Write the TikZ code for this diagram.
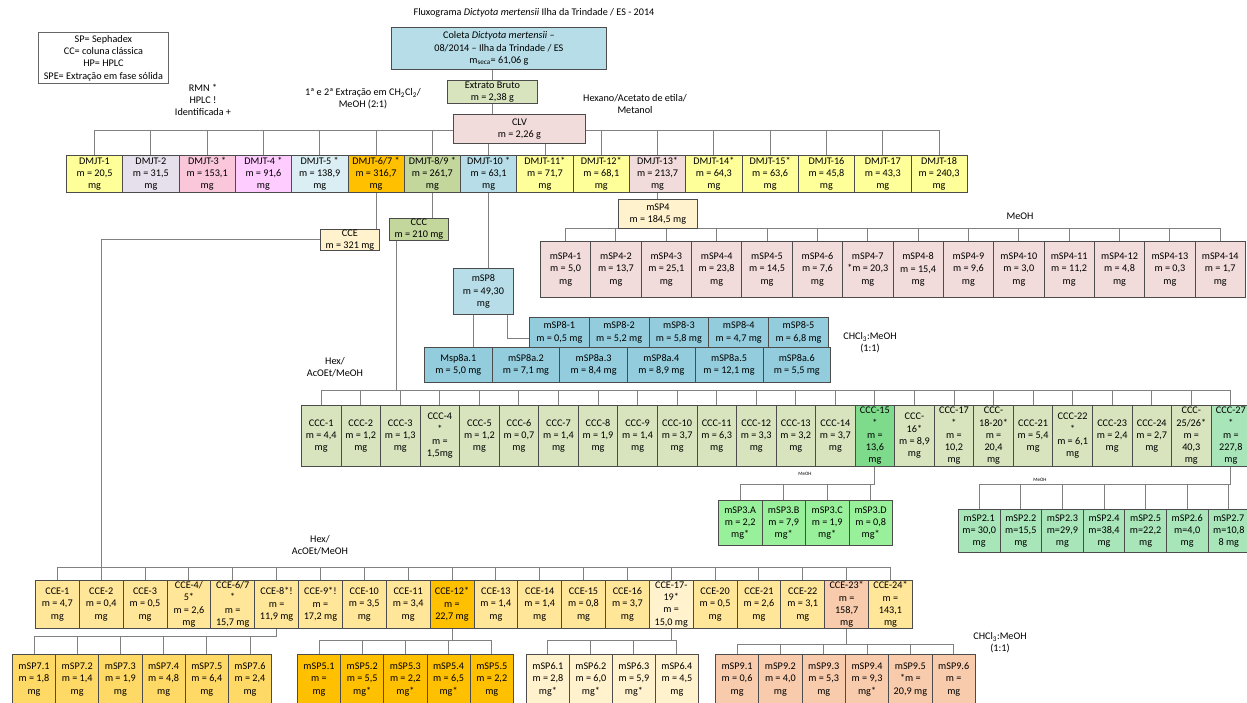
\documentclass[tikz,border=0pt]{standalone}
\usepackage{fontspec}
\setmainfont{Carlito}
\usetikzlibrary{backgrounds}
\definecolor{cBlue}{HTML}{B7DEE8}
\definecolor{cOliveL}{HTML}{D7E4BD}
\definecolor{cRose}{HTML}{F2DCDB}
\definecolor{dYel}{HTML}{FFFF99}
\definecolor{dLav}{HTML}{E6E0EC}
\definecolor{dPink}{HTML}{F9C6DA}
\definecolor{dMag}{HTML}{FFCCFF}
\definecolor{dLblue}{HTML}{DAEEF3}
\definecolor{dGold}{HTML}{FFC000}
\definecolor{dOlive}{HTML}{C3D69B}
\definecolor{cTeal}{HTML}{93CDDD}
\definecolor{cGrn}{HTML}{7EDB8C}
\definecolor{cMint}{HTML}{A8E6B9}
\definecolor{cLime}{HTML}{99F09A}
\definecolor{cCream}{HTML}{FFF2CC}
\definecolor{eSand}{HTML}{FFE699}
\definecolor{eGold}{HTML}{FFD966}
\definecolor{ePeach}{HTML}{F8CBAD}

\begin{document}
\begin{tikzpicture}[x=1pt, y=-1pt,
  font=\fontsize{10.2}{12.3}\selectfont,
  fr/.style={draw=black!70, line width=0.8pt, align=center, inner sep=0pt, anchor=north west},
  ln/.style={draw=black!50, line width=0.9pt},
  lbl/.style={align=center, inner sep=0pt},
  tiny/.style={font=\fontsize{5}{6}\selectfont, inner sep=0pt}
]
\clip (0,0) rectangle (1247,702);

% top of the flow
\node[lbl] (title) at (534,13) {Fluxograma \textit{Dictyota mertensii} Ilha da Trindade / ES - 2014};
\node[fr, draw=black!60, minimum width=130pt, minimum height=51pt] (legend) at (38,32)
  {SP= Sephadex\\CC= coluna clássica\\HP= HPLC\\SPE= Extração em fase sólida};
\node[fr, fill=cBlue, minimum width=215pt, minimum height=42pt] (coleta) at (391,27)
  {Coleta \textit{Dictyota mertensii} --\\08/2014 -- Ilha da Trindade / ES\\m\textsubscript{seca}= 61,06 g};
\node[fr, fill=cOliveL, minimum width=90pt, minimum height=23pt] (extrato) at (447,80) {Extrato Bruto\\m = 2,38 g};
\node[fr, fill=cRose, minimum width=132pt, minimum height=29pt] (clv) at (453,114) {CLV\\m = 2,26 g};

\node[lbl] (rmn) at (203,100) {RMN *\\HPLC !\\Identificada +};
\node[lbl] (extr) at (363,99) {1ª e 2ª Extração em CH\textsubscript{2}Cl\textsubscript{2}/\\MeOH (2:1)};
\node[lbl] (hexano) at (635,104) {Hexano/Acetato de etila/\\Metanol};

% DMJT fractions
\foreach \col/\txt [count=\k] in {dYel/DMJT-1\\m = 20{,}5\\mg, dLav/DMJT-2\\m = 31{,}5\\mg,
  dPink/DMJT-3 *\\m = 153{,}1\\mg, dMag/DMJT-4 *\\m = 91{,}6\\mg, dLblue/DMJT-5 *\\m = 138{,}9\\mg,
  dGold/DMJT-6{/}7 *\\m = 316{,}7\\mg, dOlive/DMJT-8{/}9 *\\m = 261{,}7\\mg, cBlue/DMJT-10 *\\m = 63{,}1\\mg,
  dYel/DMJT-11*\\m = 71{,}7\\mg, dYel/DMJT-12*\\m = 68{,}1\\mg, cRose/DMJT-13*\\m = 213{,}7\\mg,
  dYel/DMJT-14*\\m = 64{,}3\\mg, dYel/DMJT-15*\\m = 63{,}6\\mg, dYel/DMJT-16\\m = 45{,}8\\mg,
  dYel/DMJT-17\\m = 43{,}3\\mg, dYel/DMJT-18\\m = 240{,}3\\mg}
  \node[fr, fill=\col, minimum width=56.3pt, minimum height=37pt] (d\k) at ({66+(\k-1)*56.3},155) {\txt};

\node[fr, fill=cCream, minimum width=59pt, minimum height=21pt] (cce) at (320,229) {CCE\\m = 321 mg};
\node[fr, fill=dOlive, minimum width=59pt, minimum height=22pt] (ccc) at (389,218) {CCC\\m = 210 mg};
\node[fr, fill=cBlue, minimum width=60pt, minimum height=46pt] (msp8) at (453,268) {mSP8\\m = 49,30\\mg};
\node[fr, fill=cCream, minimum width=79pt, minimum height=29pt] (msp4) at (618,199) {mSP4\\m = 184,5 mg};
\node[lbl] (meoh4) at (1020,216) {MeOH};

% mSP4 fractions
\foreach \txt [count=\k] in {mSP4-1\\m = 5{,}0\\mg, mSP4-2\\m = 13{,}7\\mg, mSP4-3\\m = 25{,}1\\mg,
  mSP4-4\\m = 23{,}8\\mg, mSP4-5\\m = 14{,}5\\mg, mSP4-6\\m = 7{,}6\\mg, mSP4-7\\*m = 20{,}3\\mg,
  mSP4-8\\m = 15{,}4\\mg, mSP4-9\\m = 9{,}6\\mg, mSP4-10\\m = 3{,}0\\mg, mSP4-11\\m = 11{,}2\\mg,
  mSP4-12\\m = 4{,}8\\mg, mSP4-13\\m = 0{,}3\\mg, mSP4-14\\m = 1{,}7\\mg}
  \node[fr, fill=cRose, minimum width=50.36pt, minimum height=56pt] (f\k) at ({540+(\k-1)*50.36},241) {\txt};

% mSP8 fractions
\foreach \txt [count=\k] in {mSP8-1\\m = 0{,}5 mg, mSP8-2\\m = 5{,}2 mg, mSP8-3\\m = 5{,}8 mg,
  mSP8-4\\m = 4{,}7 mg, mSP8-5\\m = 6{,}8 mg}
  \node[fr, fill=cTeal, minimum width=59.8pt, minimum height=30pt] (b\k) at ({529+(\k-1)*59.8},317) {\txt};
\foreach \txt [count=\k] in {Msp8a.1\\m = 5{,}0 mg, mSP8a.2\\m = 7{,}1 mg, mSP8a.3\\m = 8{,}4 mg,
  mSP8a.4\\m = 8{,}9 mg, mSP8a.5\\m = 12{,}1 mg, mSP8a.6\\m = 5{,}5 mg}
  \node[fr, fill=cTeal, minimum width=67.7pt, minimum height=35pt] (a\k) at ({424+(\k-1)*67.7},347) {\txt};
\node[lbl] (chcl8) at (870,343) {CHCl\textsubscript{3}:MeOH\\(1:1)};
\node[lbl] (hex1) at (335,367) {Hex/\\AcOEt/MeOH};

% CCC fractions
\foreach \col/\txt [count=\k] in {cOliveL/CCC-1\\m = 4{,}4\\mg, cOliveL/CCC-2\\m = 1{,}2\\mg,
  cOliveL/CCC-3\\m = 1{,}3\\mg, cOliveL/CCC-4\\*\\m =\\1{,}5mg, cOliveL/CCC-5\\m = 1{,}2\\mg,
  cOliveL/CCC-6\\m = 0{,}7\\mg, cOliveL/CCC-7\\m = 1{,}4\\mg, cOliveL/CCC-8\\m = 1{,}9\\mg,
  cOliveL/CCC-9\\m = 1{,}4\\mg, cOliveL/CCC-10\\m = 3{,}7\\mg, cOliveL/CCC-11\\m = 6{,}3\\mg,
  cOliveL/CCC-12\\m = 3{,}3\\mg, cOliveL/CCC-13\\m = 3{,}2\\mg, cOliveL/CCC-14\\m = 3{,}7\\mg,
  cGrn/CCC-15\\*\\m =\\13{,}6\\mg, cOliveL/CCC-\\16*\\m = 8{,}9\\mg, cOliveL/CCC-17\\*\\m =\\10{,}2\\mg,
  cOliveL/CCC-\\18-20*\\m =\\20{,}4\\mg, cOliveL/CCC-21\\m = 5{,}4\\mg, cOliveL/CCC-22\\*\\m = 6{,}1\\mg,
  cOliveL/CCC-23\\m = 2{,}4\\mg, cOliveL/CCC-24\\m = 2{,}7\\mg, cOliveL/CCC-\\25{/}26*\\m =\\40{,}3\\mg,
  cMint/CCC-27\\*\\m =\\227{,}8\\mg}
  \node[fr, fill=\col, minimum width=39.55pt, minimum height=61pt] (c\k) at ({301+(\k-1)*39.55},405) {\txt};

% mSP3 and mSP2 fractions
\foreach \txt [count=\k] in {mSP3.A\\m = 2{,}2\\mg*, mSP3.B\\m = 7{,}9\\mg*, mSP3.C\\m = 1{,}9\\mg*, mSP3.D\\m = 0{,}8\\mg*}
  \node[fr, fill=cLime, minimum width=43.5pt, minimum height=45pt] (g\k) at ({718+(\k-1)*43.5},500) {\txt};
\foreach \txt [count=\k] in {mSP2.1\\m= 30{,}0\\mg, mSP2.2\\m=15{,}5\\mg, mSP2.3\\m=29{,}9\\mg,
  mSP2.4\\m=38{,}4\\mg, mSP2.5\\m=22{,}2\\mg, mSP2.6\\m=4{,}0\\mg, mSP2.7\\m=10{,}8\\8 mg}
  \node[fr, fill=cMint, minimum width=41.6pt, minimum height=43pt] (h\k) at ({958+(\k-1)*41.6},509) {\txt};
\node[tiny] (meoh3) at (805,474) {MeOH};
\node[tiny] (meoh2) at (1040,480) {MeOH};

% CCE fractions
\node[lbl] (hex2) at (320,545) {Hex/\\AcOEt/MeOH};
\foreach \col/\txt [count=\k] in {eSand/CCE-1\\m = 4{,}7\\mg, eSand/CCE-2\\m = 0{,}4\\mg,
  eSand/CCE-3\\m = 0{,}5\\mg, eSand/CCE-4{/}\\5*\\m = 2{,}6\\mg, eSand/CCE-6{/}7\\*\\m =\\15{,}7 mg,
  eSand/CCE-8*!\\m =\\11{,}9 mg, eSand/CCE-9*!\\m =\\17{,}2 mg, eSand/CCE-10\\m = 3{,}5\\mg,
  eSand/CCE-11\\m = 3{,}4\\mg, dGold/CCE-12*\\m =\\22{,}7 mg, eSand/CCE-13\\m = 1{,}4\\mg,
  eSand/CCE-14\\m = 1{,}4\\mg, eSand/CCE-15\\m = 0{,}8\\mg, eSand/CCE-16\\m = 3{,}7\\mg,
  cCream/CCE-17-\\19*\\m =\\15{,}0 mg, eSand/CCE-20\\m = 0{,}5\\mg, eSand/CCE-21\\m = 2{,}6\\mg,
  eSand/CCE-22\\m = 3{,}1\\mg, ePeach/CCE-23*\\m =\\158{,}7\\mg, eSand/CCE-24*\\m =\\143{,}1\\mg}
  \node[fr, fill=\col, minimum width=43.85pt, minimum height=48pt] (e\k) at ({35+(\k-1)*43.85},580) {\txt};

% sephadex of the CCE fractions
\foreach \txt [count=\k] in {mSP7.1\\m = 1{,}8\\mg, mSP7.2\\m = 1{,}4\\mg, mSP7.3\\m = 1{,}9\\mg,
  mSP7.4\\m = 4{,}8\\mg, mSP7.5\\m = 6{,}4\\mg, mSP7.6\\m = 2{,}4\\mg}
  \node[fr, fill=eGold, minimum width=43.2pt, minimum height=50pt] (p\k) at ({12+(\k-1)*43.2},654) {\txt};
\foreach \txt [count=\k] in {mSP5.1\\m =\\mg, mSP5.2\\m = 5{,}5\\mg*, mSP5.3\\m = 2{,}2\\mg*,
  mSP5.4\\m = 6{,}5\\mg*, mSP5.5\\m = 2{,}2\\mg}
  \node[fr, fill=dGold, minimum width=43.2pt, minimum height=50pt] (q\k) at ({297+(\k-1)*43.2},654) {\txt};
\foreach \txt [count=\k] in {mSP6.1\\m = 2{,}8\\mg*, mSP6.2\\m = 6{,}0\\mg*, mSP6.3\\m = 5{,}9\\mg*, mSP6.4\\m = 4{,}5\\mg}
  \node[fr, fill=cCream, minimum width=43pt, minimum height=50pt] (r\k) at ({526+(\k-1)*43},654) {\txt};
\foreach \txt [count=\k] in {mSP9.1\\m = 0{,}6\\mg, mSP9.2\\m = 4{,}0\\mg, mSP9.3\\m = 5{,}3\\mg,
  mSP9.4\\m = 9{,}3\\mg*, mSP9.5\\*m =\\20{,}9 mg, mSP9.6\\m =\\mg}
  \node[fr, fill=ePeach, minimum width=43.33pt, minimum height=50pt] (s\k) at ({715+(\k-1)*43.33},654) {\txt};
\node[lbl] (chcl9) at (1000,643) {CHCl\textsubscript{3}:MeOH\\(1:1)};

% connectors
\begin{pgfonlayer}{background}
\coordinate (dbus) at (0,130);
\coordinate (fbus) at (0,228);
\coordinate (cbus) at (0,390);
\coordinate (gbus) at (0,484);
\coordinate (ebus) at (101,567);
\coordinate (pbus) at (0,636);
\coordinate (qbus) at (0,640);
\coordinate (sbus) at (0,644);
\draw[ln] (extrato.north) -- (extrato.north |- coleta.south);
\draw[ln] (extrato.south) -- (extrato.south |- clv.north);
\draw[ln] (d1.north |- dbus) -- (d16.north |- dbus);
\foreach \k in {1,...,16} \draw[ln] (d\k.north) -- (d\k.north |- dbus);
\draw[ln] (d6.south) -- (d6.south |- cce.north);
\draw[ln] (d7.south) -- (d7.south |- ccc.north);
\draw[ln] (d8.south) -- (d8.south |- msp8.north);
\draw[ln] (d11.south) -- (d11.south |- msp4.north);
\draw[ln] (f1.north |- fbus) -- (f14.north |- fbus);
\foreach \k in {1,...,14} \draw[ln] (f\k.north) -- (f\k.north |- fbus);
\draw[ln] ([xshift=-10pt]msp8.south) -- ([xshift=-10pt]msp8.south |- a1.north);
\draw[ln] ([xshift=24pt]msp8.south) |- ([yshift=-6pt]b1.west);
\draw[ln] ([xshift=-22pt]ccc.south) -- ([xshift=-22pt]ccc.south |- cbus);
\draw[ln] (c1.north |- cbus) -- (c24.north |- cbus);
\foreach \k in {1,...,24} \draw[ln] (c\k.north) -- (c\k.north |- cbus);
\draw[ln] (c15.south) -- (c15.south |- gbus);
\draw[ln] (g1.north |- gbus) -- (c15.south |- gbus);
\foreach \k in {1,...,4} \draw[ln] (g\k.north) -- (g\k.north |- gbus);
\draw[ln] (c24.south) -- (c24.south |- gbus);
\draw[ln] (h1.north |- gbus) -- (c24.south |- gbus);
\foreach \k in {1,...,7} \draw[ln] (h\k.north) -- (h\k.north |- gbus);
\draw[ln] (cce.west) -| (ebus);
\draw[ln] (e1.north |- ebus) -- (e20.north |- ebus);
\foreach \k in {1,...,20} \draw[ln] (e\k.north) -- (e\k.north |- ebus);
\draw[ln] (e6.south) -- (e6.south |- pbus);
\draw[ln] (p1.north |- pbus) -- (e6.south |- pbus);
\foreach \k in {1,...,6} \draw[ln] (p\k.north) -- (p\k.north |- pbus);
\draw[ln] (e10.south) -- (e10.south |- qbus);
\draw[ln] (q1.north |- qbus) -- (q5.north |- qbus);
\foreach \k in {1,...,5} \draw[ln] (q\k.north) -- (q\k.north |- qbus);
\draw[ln] (e15.south) -- (e15.south |- qbus);
\draw[ln] (r1.north |- qbus) -- (r4.north |- qbus);
\foreach \k in {1,...,4} \draw[ln] (r\k.north) -- (r\k.north |- qbus);
\draw[ln] (e19.south) -- (e19.south |- sbus);
\draw[ln] (s1.north |- sbus) -- (s6.north |- sbus);
\foreach \k in {1,...,6} \draw[ln] (s\k.north) -- (s\k.north |- sbus);
\end{pgfonlayer}
\end{tikzpicture}
\end{document}
